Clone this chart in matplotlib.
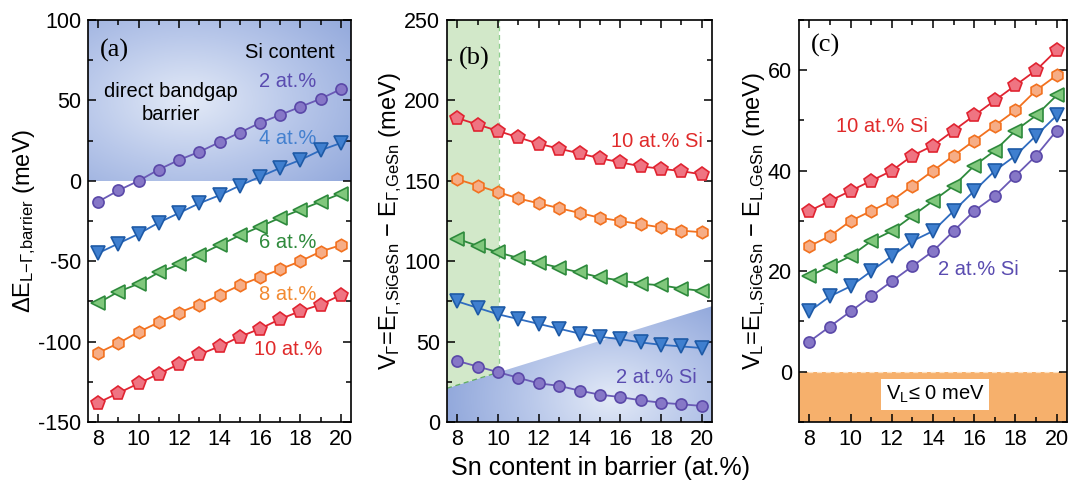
import numpy as np
import matplotlib
matplotlib.use("Agg")
import matplotlib.pyplot as plt
from matplotlib.colors import LinearSegmentedColormap
from matplotlib.patches import Polygon, Rectangle
from matplotlib.ticker import MultipleLocator

plt.rcParams["font.family"] = ["Liberation Sans", "DejaVu Sans"]
plt.rcParams["mathtext.fontset"] = "custom"
plt.rcParams["mathtext.rm"] = "Liberation Sans"
plt.rcParams["mathtext.it"] = "Liberation Sans:italic"
plt.rcParams["mathtext.bf"] = "Liberation Sans:bold"
plt.rcParams["axes.unicode_minus"] = False

# -----------------------------
# Datos: contenido de Sn en la barrera (at.%)
# -----------------------------
sn = [8, 9, 10, 11, 12, 13, 14, 15, 16, 17, 18, 19, 20]
si_levels = ["2", "4", "6", "8", "10"]

# (a) Delta E L-Gamma de la barrera (meV)
dE_2 = [-13, -6, 0, 7, 13, 18, 24, 30, 36, 41, 46, 51, 57]
dE_4 = [-45, -39, -33, -26, -20, -14, -9, -3, 2.5, 8, 13, 19, 23.5]
dE_6 = [-76, -69, -64, -57, -52, -46, -40, -34, -28.5, -23, -18, -13, -8]
dE_8 = [-107, -101, -94, -88, -82, -77, -71, -65, -60, -55, -50, -44, -40]
dE_10 = [-138, -132, -126, -120, -114, -108, -103, -97, -92, -86, -81, -77, -71]

# (b) V_Gamma (meV)
vg_2 = [38, 34.5, 31, 27.5, 24, 22.5, 19.5, 17, 15.5, 13.5, 12, 11, 10]
vg_4 = [75, 71, 67, 64, 61, 58, 55, 53, 51.5, 49.5, 48, 47, 46]
vg_6 = [114, 109.5, 105.5, 102, 99, 96, 93, 90, 88, 86, 85, 83, 81.5]
vg_8 = [151, 147, 143, 139, 136, 133, 130, 127, 125, 123, 121, 119, 118]
vg_10 = [189, 185, 181, 177, 173, 170, 167, 164, 161.5, 159, 157.5, 156, 154]

# (c) V_L (meV)
vl_2 = [6, 9, 12, 15, 18, 21, 24, 28, 32, 35, 39, 43, 48]
vl_4 = [12, 15, 17, 20, 23, 26, 28, 32, 36, 40, 43, 47, 51]
vl_6 = [19, 21, 23, 26, 28, 31, 34, 37, 41, 44, 48, 51, 55]
vl_8 = [25, 27, 30, 32, 34, 37, 40, 43, 46, 49, 52, 56, 59]
vl_10 = [32, 34, 36, 38, 40, 43, 45, 48, 51, 54, 57, 60, 64]

# limites de las zonas sombreadas
direct_gap_limit = 0          # (a) barrera de gap directo: dE > 0
gamma_edge = [21, 72]          # (b) borde de la zona azul en x = 7.5 y x = 20.5
green_sn_limit = 10.05         # (b) limite de la zona verde
vl_limit = 0                   # (c) V_L <= 0

# -----------------------------
# Estilos por contenido de Si
# -----------------------------
styles = {
    "2": dict(marker="o", ms=8, mfc="#8677c7", mec="#5a48a8", color="#6a5ab6"),
    "4": dict(marker="v", ms=10, mfc="#3f7fcf", mec="#1e5aa6", color="#2f6cc0"),
    "6": dict(marker="<", ms=10, mfc="#80c77c", mec="#2e8a3c", color="#2e8a3c"),
    "8": dict(marker="h", ms=9, mfc="#f6ad86", mec="#f2711f", color="#f2711f"),
    "10": dict(marker="p", ms=10, mfc="#ef7482", mec="#e02431", color="#e02431"),
}
text_colors = {"2": "#5a4cb0", "4": "#4380cf", "6": "#2e8a3c", "8": "#f28a32", "10": "#e02a2a"}

blue_map = LinearSegmentedColormap.from_list("barrier", ["#e3eaf7", "#b9c8ea", "#93a9dc"])

FS_TICK = 15.5
FS_TEXT = 14.5
FS_LABEL = 17


def radial_shade(ax, extent, cx, cy, sx=0.75, sy=0.75, clip=None):
    """Relleno azul con degradado radial (mas claro en el centro)."""
    xx, yy = np.meshgrid(np.linspace(0, 1, 300), np.linspace(0, 1, 300))
    r = np.sqrt(((xx - cx) / sx) ** 2 + ((yy - cy) / sy) ** 2)
    img = ax.imshow(np.clip(r, 0, 1), extent=extent, origin="lower", cmap=blue_map, vmin=0, vmax=1,
                    aspect="auto", zorder=0, interpolation="bilinear")
    if clip is not None:
        img.set_clip_path(clip)
    return img


def style_axes(ax, ylim, ymajor, yminor):
    ax.set_xlim(7.5, 20.5)
    ax.set_ylim(*ylim)
    ax.xaxis.set_major_locator(MultipleLocator(2))
    ax.xaxis.set_minor_locator(MultipleLocator(1))
    ax.yaxis.set_major_locator(MultipleLocator(ymajor))
    ax.yaxis.set_minor_locator(MultipleLocator(yminor))
    ax.tick_params(which="both", direction="in", top=True, right=True, width=1.1,
                   labelsize=FS_TICK, pad=5)
    ax.tick_params(which="major", length=6)
    ax.tick_params(which="minor", length=3.5)
    for s in ax.spines.values():
        s.set_linewidth(1.2)
        s.set_zorder(10)


def plot_series(ax, series):
    for lvl, vals in zip(si_levels, series):
        st = styles[lvl]
        ax.plot(sn, vals, marker=st["marker"], ms=st["ms"], mfc=st["mfc"], mec=st["mec"],
                mew=1.2, color=st["color"], lw=1.3, zorder=5)


fig = plt.figure(figsize=(10.79, 4.83), dpi=100)
ax_a = fig.add_axes([0.0816, 0.1263, 0.2437, 0.8323])
ax_b = fig.add_axes([0.4143, 0.1263, 0.2456, 0.8323])
ax_c = fig.add_axes([0.7405, 0.1263, 0.2484, 0.8323])

# -----------------------------
# (a) Delta E L-Gamma
# -----------------------------
style_axes(ax_a, (-150, 100), 50, 25)
radial_shade(ax_a, [7.5, 20.5, direct_gap_limit, 100], 0.38, 0.5, sx=0.8, sy=0.8)
plot_series(ax_a, [dE_2, dE_4, dE_6, dE_8, dE_10])
ax_a.text(8.1, 81, "(a)", family="Liberation Serif", fontsize=19, va="center", ha="left")
ax_a.text(19.7, 79.5, "Si content", fontsize=FS_TEXT, ha="right", va="center")
ax_a.text(11.6, 48.5, "direct bandgap\nbarrier", fontsize=FS_TEXT, ha="center", va="center",
          linespacing=1.25)
label_pos_a = [(18.8, 61.6), (18.8, 26), (18.8, -38.5), (18.8, -71), (19.1, -105)]
for lvl, (x, y) in zip(si_levels, label_pos_a):
    ax_a.text(x, y, f"{lvl} at.%", color=text_colors[lvl], fontsize=FS_TEXT, ha="right", va="center")
ax_a.set_ylabel(r"$\Delta$E$_{\mathrm{L}{-}\Gamma{,}\mathrm{barrier}}$ (meV)", fontsize=FS_LABEL,
                labelpad=0)

# -----------------------------
# (b) V_Gamma
# -----------------------------
style_axes(ax_b, (0, 250), 50, 25)
edge_at_green = gamma_edge[0] + (gamma_edge[1] - gamma_edge[0]) * (green_sn_limit - 7.5) / 13
blue_tri = Polygon([[7.5, 0], [20.5, 0], [20.5, gamma_edge[1]], [7.5, gamma_edge[0]]],
                   closed=True, transform=ax_b.transData, facecolor="none", edgecolor="none")
ax_b.add_patch(blue_tri)
radial_shade(ax_b, [7.5, 20.5, 0, gamma_edge[1]], 0.62, 0.2, sx=0.62, sy=1.0, clip=blue_tri)
ax_b.add_patch(Polygon([[7.5, gamma_edge[0]], [green_sn_limit, edge_at_green],
                        [green_sn_limit, 250], [7.5, 250]],
                       closed=True, facecolor="#d2e8c9", edgecolor="none", zorder=0.5))
ax_b.plot([green_sn_limit, green_sn_limit], [edge_at_green, 250], ls=(0, (4, 3)),
          color="#8fcf8f", lw=0.9, zorder=1)
ax_b.plot([7.5, green_sn_limit], [gamma_edge[0], edge_at_green], ls=(0, (4, 3)),
          color="#5fae5f", lw=0.9, zorder=1)
plot_series(ax_b, [vg_2, vg_4, vg_6, vg_8, vg_10])
ax_b.text(8.1, 226, "(b)", family="Liberation Serif", fontsize=19, va="center", ha="left")
ax_b.text(20.05, 174.3, "10 at.% Si", color=text_colors["10"], fontsize=FS_TEXT, ha="right", va="center")
ax_b.text(19.75, 27.5, "2 at.% Si", color=text_colors["2"], fontsize=FS_TEXT, ha="right", va="center")
ax_b.set_ylabel(r"V$_\Gamma$=E$_{\Gamma{,}\mathrm{SiGeSn}}$ $-$ E$_{\Gamma{,}\mathrm{GeSn}}$ (meV)",
                fontsize=FS_LABEL, labelpad=0)
ax_b.set_xlabel("Sn content in barrier (at.%)", fontsize=18)
ax_b.xaxis.set_label_coords(0.58, -0.085)

# -----------------------------
# (c) V_L
# -----------------------------
style_axes(ax_c, (-10, 70), 20, 10)
ax_c.add_patch(Rectangle((7.5, -10), 13, vl_limit + 10, facecolor="#f6b06c", edgecolor="none",
                         zorder=0))
ax_c.axhline(vl_limit, ls=(0, (4, 3)), color="#fde0c0", lw=0.9, zorder=1)
plot_series(ax_c, [vl_2, vl_4, vl_6, vl_8, vl_10])
ax_c.text(8.1, 65, "(c)", family="Liberation Serif", fontsize=19, va="center", ha="left")
ax_c.text(11.5, 48.9, "10 at.% Si", color=text_colors["10"], fontsize=FS_TEXT, ha="center", va="center")
ax_c.text(16.2, 20.3, "2 at.% Si", color=text_colors["2"], fontsize=FS_TEXT, ha="center", va="center")
ax_c.text(14.1, -4.5, r"V$_\mathrm{L}$≤ 0 meV", fontsize=FS_TEXT, ha="center", va="center",
          bbox=dict(boxstyle="square,pad=0.25", facecolor="white", edgecolor="none"), zorder=6)
ax_c.set_ylabel(r"V$_\mathrm{L}$=E$_{\mathrm{L{,}SiGeSn}}$ $-$ E$_{\mathrm{L{,}GeSn}}$ (meV)",
                fontsize=FS_LABEL, labelpad=0)

fig.savefig("out.png", dpi=100)
